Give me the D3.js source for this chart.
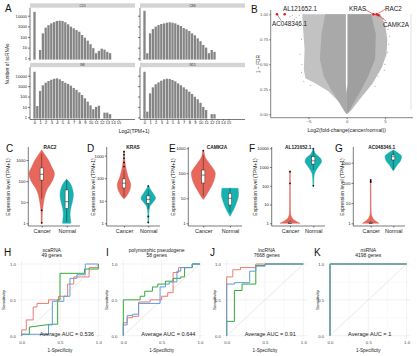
<!DOCTYPE html>
<html><head><meta charset="utf-8">
<script src="https://cdn.jsdelivr.net/npm/d3@7/dist/d3.min.js"></script>
<style>html,body{margin:0;padding:0;background:#fff}svg{display:block}</style>
</head><body>
<svg id="chart" width="417" height="356" xmlns="http://www.w3.org/2000/svg"></svg>
<script>
// ================= DATA =================
// Panel A: histogram of log2(TPM+1)
const histBins=[0,0.5,1,1.5,2,2.5,3,3.5,4,4.5,5,5.5,6,6.5,7,7.5,8,8.5,9,9.5,10,10.5,11,11.5,12,12.5,13,13.5];
const histSamples=["C15","C86","N8","N15"];
const histC15=[23000,null,6,220,750,1300,1900,2500,3200,3400,3200,2400,1550,930,660,450,315,155,86,45,21,9,3,5,8,6.5,4,3];
const histC86=[29000,3,220,560,930,1350,1650,1900,2200,2400,2200,1900,1400,1070,700,530,365,220,145,75,40,18,10,3,6,4,null,null];
const histN8=[24000,12,340,1200,2100,3100,4100,5100,5600,4500,3100,2100,1600,1100,660,430,250,140,67,32,14,6,10,13,null,2.8,2.8,2];
const histN15=[24000,3.5,200,760,1500,2300,3300,4500,5100,4800,3900,2900,1850,1200,760,490,290,175,95,54,25,10,5,null,2,2,null,null];
const histTicksX=[0,1,2,3,4,5,6,7,8,9,10,11,12,13,14,15];
const histTicksY=[1,10,100,1000,10000];

// Panel B: volcano (cloud envelopes, [log2FC, 1-FDR])
const volcanoOuterLeft=[[-0.12,1],[-5.8,1],[-5.7,0.85],[-5.5,0.65],[-5.6,0.45],[-5.4,0.36],[-4.1,0.31],[-2.4,0.23],[-1.1,0.13],[-0.4,0.05],[0,0],[0,0.2],[-0.12,0.3]];
const volcanoOuterRight=[[0.12,1],[4.4,1],[5.0,0.9],[5.3,0.75],[5.2,0.6],[4.6,0.47],[3.4,0.31],[1.6,0.14],[0.6,0.04],[0,0],[0,0.2],[0.12,0.3]];
const volcanoCoreLeft=[[-0.12,1],[-2.8,1],[-3.3,0.8],[-3.5,0.55],[-3.0,0.38],[-2.0,0.24],[-1.0,0.12],[-0.3,0.03],[0,0],[0,0.2],[-0.12,0.3]];
const volcanoCoreRight=[[0.12,1],[3.2,1],[3.8,0.8],[3.7,0.55],[2.8,0.38],[1.8,0.23],[0.9,0.11],[0.3,0.03],[0,0],[0,0.2],[0.12,0.3]];
const volcanoScatter=[[-6.2,0.99],[-6.6,0.97],[-7.1,0.99],[-6.0,0.93],[-6.3,0.88],[-5.9,0.75],[-6.1,0.6],[-5.85,0.5],[-5.9,0.42],[-5.6,0.33],[-4.7,0.29],[-6.8,0.95],[-7.4,0.98],[5.4,0.85],[5.5,0.7],[5.0,0.5],[4.8,0.96],[4.1,0.38],[5.6,0.78],[5.35,0.62],[4.9,0.44],[3.7,0.28]];
const volcanoGenes=["AL121652.1","AC048346.1","KRAS","RAC2","CAMK2A"];
const volcanoGeneFC=[-8.1,-9.1,3.5,3.9,4.15];
const volcanoGeneP=[1.0,1.0,1.0,1.0,0.99];
const volcanoTicksX=[-5,0,5];
const volcanoTicksY=[0,0.25,0.5,0.75,1];

// Panels C-G: violins, density profiles [TPM+1, relative density]
const violinGenes=["RAC2","KRAS","CAMK2A","AL121652.1","AC048346.1"];
const violinGroups=["Cancer","Normal"];
const densCancer=[
 [[1,0.04],[2,0.04],[4,0.06],[6,0.1],[15,0.2],[38,0.4],[79,0.73],[150,0.95],[230,1.0],[450,0.8],[1000,0.53],[2000,0.2],[3000,0]],
 [[12,0],[15,0.3],[25,0.75],[50,1.0],[118,0.6],[330,0.25],[800,0.08],[1500,0.03],[1700,0]],
 [[9,0],[11.6,0.17],[21.5,0.5],[46,0.85],[100,1.0],[215,0.6],[460,0.14],[800,0.03],[850,0]],
 [[1,1.0],[1.3,0.6],[1.6,0.35],[2,0.2],[2.5,0.1],[3,0.07],[5,0.05],[10,0.04],[100,0.035],[600,0.03],[650,0]],
 [[1,1.0],[1.3,0.6],[1.6,0.35],[2,0.2],[2.5,0.1],[3,0.07],[5,0.05],[10,0.045],[100,0.04],[140,0.035],[145,0]]
];
const densNormal=[
 [[1,0.6],[1.2,0.6],[2.5,0.5],[5.1,0.6],[10.6,0.85],[22,1.0],[38,0.9],[79,0.5],[112,0.12],[125,0]],
 [[1,0.05],[2.8,0.07],[5.5,0.22],[9,0.7],[13,1.0],[18,0.8],[30,0.35],[45,0.05],[50,0]],
 [[1.9,0],[2.5,0.2],[4,0.5],[7.3,0.8],[13.6,1.0],[25,0.95],[25.3,0]],
 [[95,0],[100,0.04],[200,0.06],[400,0.12],[700,0.35],[1200,0.72],[2000,1.0],[3000,0.85],[5000,0.3],[9000,0.03],[9500,0]],
 [[400,0],[450,0.1],[700,0.4],[1200,0.85],[2000,1.0],[3000,0.6],[4300,0]]
];
// box stats [lower whisker, q1, median, q3, upper whisker]
const boxCancer=[[15,112,210,420,2000],[15,37,60,93,230],[12,41,85,135,540],[1,1,1,1.15,1.4],[1,1,1,1.1,1.3]];
const boxNormal=[[1.2,5.1,10.6,38,112],[4.3,7.7,11.6,16.4,30],[2.8,5.4,10,15.8,26],[700,1450,2150,3570,8000],[450,1370,1970,2400,4000]];
const outCancer=[[4.2,1.05],[330,500,770,1100,1500],[800],[565,136],[140,120,110]];
const outNormal=[[],[45,2,1.1],[],[9500,100],[]];
const violinTicks=[[1,10,100,1000],[1,10,100,1000],[1,10,100,1000],[1,10,100,1000,10000],[1,10,100,1000]];

// Panels H-K: ROC curves [1-specificity, sensitivity]
const rocTitles=["scaRNA","polymorphic pseudogene","lncRNA","miRNA"];
const rocGeneCounts=["49 genes","58 genes","7668 genes","4198 genes"];
const rocAUC=["0.536","0.644","0.91","1"];
const rocRed=[
 [[0,0],[0,0.08],[0.06,0.08],[0.06,0.22],[0.15,0.22],[0.15,0.4],[0.2,0.4],[0.2,0.45],[0.35,0.45],[0.35,0.5],[0.48,0.5],[0.48,0.55],[0.6,0.55],[0.6,0.72],[0.68,0.72],[0.68,0.82],[0.88,0.82],[0.88,0.95],[1,0.95],[1,1]],
 [[0,0],[0,0.18],[0.05,0.18],[0.05,0.25],[0.12,0.25],[0.12,0.27],[0.2,0.27],[0.2,0.47],[0.35,0.47],[0.35,0.5],[0.5,0.5],[0.5,0.55],[0.58,0.55],[0.58,0.6],[0.65,0.6],[0.65,0.88],[0.72,0.88],[0.72,0.95],[0.9,0.95],[0.9,1],[1,1]],
 [[0,0],[0,0.82],[0.08,0.82],[0.08,0.92],[0.18,0.92],[0.18,0.95],[0.38,0.95],[0.38,1],[1,1]],
 [[0,0],[0,1],[1,1]]
];
const rocGreen=[
 [[0,0],[0,0.02],[0.1,0.02],[0.1,0.12],[0.38,0.16],[0.47,0.16],[0.47,0.5],[0.5,0.5],[0.5,0.87],[0.82,0.87],[0.82,0.93],[1,0.93],[1,1]],
 [[0,0],[0,0.5],[0.22,0.5],[0.22,0.55],[0.28,0.55],[0.28,0.62],[0.38,0.62],[0.38,0.68],[0.45,0.68],[0.45,0.72],[0.55,0.72],[0.55,0.76],[0.65,0.76],[0.65,0.8],[0.75,0.8],[0.75,0.82],[0.8,0.82],[0.8,0.95],[0.9,0.95],[0.9,1],[1,1]],
 [[0,0],[0,0.2],[0.1,0.2],[0.1,0.63],[0.2,0.63],[0.2,0.72],[0.38,0.72],[0.38,0.98],[0.5,0.98],[0.5,1],[1,1]],
 [[0,0],[0,1],[1,1]]
];
const rocBlue=[
 [[0,0],[0,0.02],[0.35,0.02],[0.35,0.15],[0.4,0.15],[0.4,0.48],[0.55,0.48],[0.55,0.55],[0.63,0.55],[0.63,0.8],[0.72,0.8],[0.72,0.85],[0.83,0.85],[0.83,1],[1,1]],
 [[0,0],[0,0.15],[0.05,0.15],[0.05,0.28],[0.12,0.28],[0.12,0.3],[0.2,0.3],[0.2,0.45],[0.48,0.45],[0.48,0.68],[0.55,0.68],[0.55,0.72],[0.6,0.72],[0.6,0.75],[0.7,0.75],[0.7,0.9],[0.75,0.9],[0.75,0.95],[0.9,0.95],[0.9,1],[1,1]],
 [[0,0],[0,0.72],[0.1,0.72],[0.1,0.74],[0.3,0.74],[0.3,0.9],[0.38,0.9],[0.38,0.97],[0.5,0.97],[0.5,1],[1,1]],
 [[0,0],[0,1],[1,1]]
];
const rocTicks=[0,0.5,1];

// ================= DRAWING =================
const FONT='"Liberation Sans", Arial, Helvetica, sans-serif';
const svg=d3.select("#chart").attr("font-family",FONT);
svg.append("rect").attr("width",417).attr("height",356).attr("fill","#fff");

function T(x,y,s,fs,o={}){
  const t=svg.append("text").attr("x",x).attr("y",y).attr("font-size",fs)
    .attr("fill",o.fill||"#1a1a1a").attr("text-anchor",o.anchor||"start").text(s);
  if(o.bold)t.attr("font-weight","bold");
  if(o.rot)t.attr("transform",`rotate(-90 ${x} ${y})`);
  return t;
}
function L(x1,y1,x2,y2,c,w){svg.append("line").attr("x1",x1).attr("y1",y1).attr("x2",x2).attr("y2",y2).attr("stroke",c).attr("stroke-width",w);}
function styleAxis(g,fs,col,lc,lw){
  g.attr("font-family",FONT).attr("font-size",fs);
  g.selectAll(".tick text").attr("fill",col);
  g.selectAll(".tick line").attr("stroke",lc).attr("stroke-width",lw||0.6);
  g.select(".domain").remove();
}

// panel letters
[["A",5,12],["B",251,12.5],["C",6,152],["D",87,152],["E",169,152],["F",249,152],["G",335,152],["H",4,256],["I",106,256],["J",210,256],["K",314,256]]
 .forEach(d=>T(d[1],d[2],d[0],10,{fill:"#111"}));

// ---------- Panel A ----------
const histData=[histC15,histC86,histN8,histN15];
const facetX=[30,140,30,140], facetRow=[0,0,1,1];
const rows=[{strip:3.3,top:7.8,bot:61,y1:58.3,y4:15.7},{strip:62.8,top:67.3,bot:119.5,y1:117.3,y4:75.7}];
const FW=105;
histSamples.forEach((name,i)=>{
  const x0=facetX[i], r=rows[facetRow[i]];
  const xs=d3.scaleLinear().domain([0,15]).range([x0+4.5,x0+4.5+84]);
  const ys=d3.scaleLog().domain([1,10000]).range([r.y1,r.y4]);
  svg.append("rect").attr("x",x0).attr("y",r.strip).attr("width",FW).attr("height",4.4).attr("fill","#d4d4d4");
  T(x0+FW/2,r.strip+3.3,name,3.4,{anchor:"middle",fill:"#333"});
  const base=ys(0.76);
  svg.append("g").selectAll("rect")
    .data(histBins.map((b,j)=>[b,histData[i][j]]).filter(d=>d[1]!=null)).join("rect")
    .attr("x",d=>xs(d[0])-1.15).attr("width",2.3)
    .attr("y",d=>ys(d[1])).attr("height",d=>base-ys(d[1])).attr("fill","#858585");
  L(x0,r.top,x0,r.bot,"#222",0.6);
  const ga=svg.append("g").attr("transform",`translate(${x0},0)`)
    .call(d3.axisLeft(ys).tickValues(histTicksY).tickFormat(x0<100?d3.format("d"):()=>"").tickSize(2).tickPadding(1));
  styleAxis(ga,4.1,"#222","#222");
  if(facetRow[i]===1){
    L(x0,r.bot,x0+FW,r.bot,"#222",0.6);
    const gx=svg.append("g").attr("transform",`translate(0,${r.bot})`)
      .call(d3.axisBottom(xs).tickValues(histTicksX).tickFormat(d3.format("d")).tickSize(1.2).tickPadding(0.6));
    styleAxis(gx,4.1,"#222","#222");
  }
});
T(9,64,"Number of scRNAs",4.8,{anchor:"middle",rot:true});
T(134,132.5,"Log2(TPM+1)",5,{anchor:"middle"});

// ---------- Panel B ----------
const vx=d3.scaleLinear().domain([-5,5]).range([308.4,385]);
const vy=d3.scaleLinear().domain([0,1]).range([114.3,14.3]);
const poly=d3.line().x(d=>vx(d[0])).y(d=>vy(d[1])).curve(d3.curveLinearClosed);
svg.append("path").attr("d",poly(volcanoOuterLeft)).attr("fill","#c2c2c2");
svg.append("path").attr("d",poly(volcanoOuterRight)).attr("fill","#bababa");
svg.append("path").attr("d",poly(volcanoCoreLeft)).attr("fill","#a9a9a9");
svg.append("path").attr("d",poly(volcanoCoreRight)).attr("fill","#9f9f9f");
svg.append("g").selectAll("circle").data(volcanoScatter).join("circle")
  .attr("cx",d=>vx(d[0])).attr("cy",d=>vy(d[1])).attr("r",0.55).attr("fill","#999");
L(270.7,10,270.7,117.7,"#333",0.6);
L(270.7,117.7,413,117.7,"#333",0.6);
L(411,14,411,110,"#d2d2d2",0.7);
const gvy=svg.append("g").attr("transform","translate(270.7,0)")
  .call(d3.axisLeft(vy).tickValues(volcanoTicksY).tickFormat(d3.format(".2f")).tickSize(1.5).tickPadding(1));
styleAxis(gvy,4.2,"#555","#333");
const gvx=svg.append("g").attr("transform","translate(0,117.7)")
  .call(d3.axisBottom(vx).tickValues(volcanoTicksX).tickFormat(d3.format("d")).tickSize(1.5).tickPadding(1));
styleAxis(gvx,4.4,"#555","#333");
T(259.5,64,"1 \u2212 FDR",4.8,{anchor:"middle",rot:true});
T(346.7,132,"Log2(fold-change(cancer/normal))",5.2,{anchor:"middle"});
// labelled genes
const gp=volcanoGenes.map((g,i)=>[vx(volcanoGeneFC[i]),vy(volcanoGeneP[i])]);
L(gp[1][0],gp[1][1],281,20.5,"#333",0.5);
L(364.5,9,gp[2][0],gp[2][1],"#e41a1c",0.6);
L(385.5,9,gp[3][0],gp[3][1],"#e41a1c",0.6);
L(386,21,gp[4][0],gp[4][1],"#e41a1c",0.6);
svg.append("g").selectAll("circle").data(gp).join("circle")
  .attr("cx",d=>d[0]).attr("cy",d=>d[1]).attr("r",1.3).attr("fill","#e41a1c");
T(283,10.5,volcanoGenes[0],6.3);
T(272,26,volcanoGenes[1],6.3);
T(349,10.5,volcanoGenes[2],6.3);
T(385,10.5,volcanoGenes[3],6.3);
T(383,27,volcanoGenes[4],6.3);

// ---------- Panels C-G ----------
const vPanels=[
 {ax:28.3, topTick:160, cx:[41.7,66.7], w:[12.7,6.7], axRight:80, titleX:50, ytX:10},
 {ax:106.7, topTick:155.7, cx:[124,148.3], w:[6.7,7.3], axRight:160, titleX:133, ytX:94.5},
 {ax:188.3, topTick:148.3, cx:[203.3,230], w:[12,8.5], axRight:242, titleX:217, ytX:175},
 {ax:271.7, topTick:148.3, cx:[290,313.3], w:[10,8.3], axRight:325, titleX:298.3, ytX:257},
 {ax:353.3, topTick:162.7, cx:[370.7,393.3], w:[8.3,8.3], axRight:405, titleX:381.7, ytX:343.5}
];
const vColors=["#E8675D","#17B2B0"];
const vStroke=["#D5564C","#0E9E9C"];
vPanels.forEach((p,i)=>{
  const ticks=violinTicks[i];
  const ys=d3.scaleLog().domain([1,ticks[ticks.length-1]]).range([223.3,p.topTick]);
  const xs=d3.scaleOrdinal().domain(violinGroups).range(p.cx);
  L(p.ax,147,p.ax,226,"#222",0.6);
  L(p.ax,226,p.axRight,226,"#222",0.6);
  const ga=svg.append("g").attr("transform",`translate(${p.ax},0)`)
    .call(d3.axisLeft(ys).tickValues(ticks).tickFormat(d3.format("d")).tickSize(1.8).tickPadding(1));
  styleAxis(ga,4.2,"#222","#222");
  const gb=svg.append("g").attr("transform","translate(0,226)")
    .call(d3.axisBottom(xs).tickSize(1.5).tickPadding(1.2));
  styleAxis(gb,5.4,"#222","#222");
  T(p.titleX,149,violinGenes[i],4.8,{anchor:"middle",bold:true});
  T(p.ytX,187,"Expression level (TPM+1)",5,{anchor:"middle",rot:true});
  const groups=[[densCancer[i],boxCancer[i],outCancer[i]],[densNormal[i],boxNormal[i],outNormal[i]]];
  groups.forEach((g,k)=>{
    const cx=xs(violinGroups[k]), w=p.w[k];
    const area=d3.area().y(d=>ys(d[0])).x0(d=>cx-w*d[1]).x1(d=>cx+w*d[1]).curve(d3.curveMonotoneY);
    svg.append("path").attr("d",area(g[0])).attr("fill",vColors[k]).attr("stroke",vStroke[k]).attr("stroke-width",0.4);
    const b=g[1];
    L(cx,ys(b[4]),cx,ys(b[3]),"#222",0.5);
    L(cx,ys(b[1]),cx,ys(b[0]),"#222",0.5);
    const top=ys(b[3]), bot=ys(b[1]);
    svg.append("rect").attr("x",cx-1.6).attr("width",3.2).attr("y",top).attr("height",Math.max(0.8,bot-top))
      .attr("fill","#fff").attr("stroke","#222").attr("stroke-width",0.45);
    L(cx-1.6,ys(b[2]),cx+1.6,ys(b[2]),"#222",0.6);
    svg.append("g").selectAll("circle").data(g[2]).join("circle")
      .attr("cx",cx).attr("cy",d=>ys(d)).attr("r",0.9).attr("fill","#111");
  });
});

// ---------- Panels H-K ----------
const rocPanels=[
 {x0:21.7,titleX:51.7,ylabX:5,tickR:16.4},
 {x0:123.3,titleX:156.7,ylabX:107.5,tickR:118},
 {x0:226.7,titleX:266.7,ylabX:216,tickR:221.5},
 {x0:330,titleX:368.3,ylabX:318.5,tickR:325}
];
const rocCols=["#EE7A70","#33A838","#5E9DDB"];
rocPanels.forEach((p,i)=>{
  const xs=d3.scaleLinear().domain([0,1]).range([p.x0,p.x0+76.6]);
  const ys=d3.scaleLinear().domain([0,1]).range([335.7,264]);
  svg.append("rect").attr("x",xs(-0.05)).attr("y",ys(1.05)).attr("width",xs(1.05)-xs(-0.05)).attr("height",ys(-0.05)-ys(1.05)).attr("fill","#fff");
  [0.25,0.75].forEach(v=>{L(xs(v),ys(-0.05),xs(v),ys(1.05),"#f3f3f3",0.4);L(xs(-0.05),ys(v),xs(1.05),ys(v),"#f3f3f3",0.4);});
  rocTicks.forEach(v=>{L(xs(v),ys(-0.05),xs(v),ys(1.05),"#e4e4e4",0.5);L(xs(-0.05),ys(v),xs(1.05),ys(v),"#e4e4e4",0.5);});
  L(xs(0),ys(0),xs(1),ys(1),"#d2d2d2",0.5);
  const gx=svg.append("g").attr("transform",`translate(0,${ys(-0.05)})`)
    .call(d3.axisBottom(xs).tickValues(rocTicks).tickFormat(d3.format(".1f")).tickSize(0).tickPadding(2));
  styleAxis(gx,4.3,"#444","#444");
  const gy=svg.append("g").attr("transform",`translate(${xs(-0.05)},0)`)
    .call(d3.axisLeft(ys).tickValues(rocTicks).tickFormat(d3.format(".1f")).tickSize(0).tickPadding(2));
  styleAxis(gy,4.3,"#444","#444");
  const ln=d3.line().x(d=>xs(d[0])).y(d=>ys(d[1]));
  [rocRed[i],rocGreen[i],rocBlue[i]].forEach((c,k)=>{
    svg.append("path").attr("d",ln(c)).attr("fill","none").attr("stroke",rocCols[k]).attr("stroke-width",1.0);
  });
  T(p.titleX,251.5,rocTitles[i],5,{anchor:"middle"});
  T(p.titleX,257.3,rocGeneCounts[i],5,{anchor:"middle"});
  T(xs(0.235),335.6,"Average AUC = "+rocAUC[i],5.6);
  T(xs(0.5),351.8,"1-Specificity",4.6,{anchor:"middle"});
  T(p.ylabX,300,"Sensitivity",4.4,{anchor:"middle",rot:true});
});
</script>
</body></html>
